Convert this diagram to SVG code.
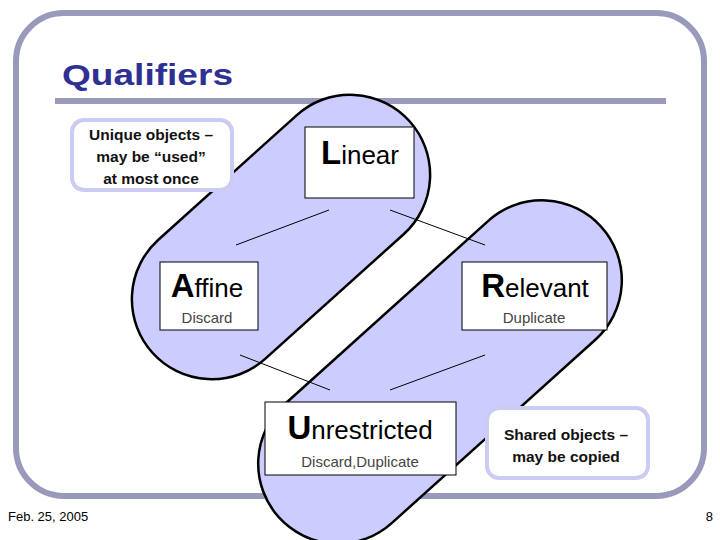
<svg xmlns="http://www.w3.org/2000/svg" width="720" height="540" viewBox="0 0 720 540">
<style>
.cap{fill:#ccccff;stroke:#000;stroke-width:2.5}
.box{fill:#fff;stroke:#000;stroke-width:1}
.call{fill:#fff;stroke:#ccccf2;stroke-width:4}
.t{font-family:"Liberation Sans",Arial,sans-serif}
.big{font-size:26px;text-anchor:middle}
.cap1{font-size:33px;font-weight:bold}
.sub{font-size:15px;fill:#444;text-anchor:middle}
.cl{font-size:15.5px;text-anchor:middle;font-weight:bold;fill:#111}
.con{stroke:#000;stroke-width:1}
</style>
<rect width="720" height="540" fill="#fff"/>
<rect x="16" y="13" width="688" height="483" rx="48" fill="none" stroke="#9999bb" stroke-width="6"/>
<line x1="55" y1="101" x2="666" y2="101" stroke="#9999bb" stroke-width="6"/>
<text class="t" x="62" y="85" font-size="30" font-weight="bold" fill="#2e3192" textLength="171" lengthAdjust="spacingAndGlyphs">Qualifiers</text>
<g id="capsules">
<rect class="cap" x="108" y="157" width="346" height="160" rx="80" transform="rotate(-42 281 237)"/>
<rect class="cap" x="223" y="292" width="434" height="160" rx="80" transform="rotate(-42 440 372)"/>
</g>
<g id="connectors">
<line class="con" x1="236" y1="245" x2="329" y2="210"/>
<line class="con" x1="390" y1="210" x2="485" y2="245"/>
<line class="con" x1="240" y1="355" x2="330" y2="390"/>
<line class="con" x1="390" y1="390" x2="485" y2="355"/>
</g>
<g id="linear"><rect class="box" x="305" y="127" width="109" height="71"/>
<text class="t big" x="360" y="164"><tspan class="cap1">L</tspan>inear</text></g>
<g id="affine"><rect class="box" x="160" y="262" width="98" height="68"/>
<text class="t big" x="207" y="297"><tspan class="cap1">A</tspan>ffine</text>
<text class="t sub" x="207" y="323">Discard</text></g>
<g id="relevant"><rect class="box" x="462" y="262" width="145" height="68"/>
<text class="t big" x="535" y="297"><tspan class="cap1">R</tspan>elevant</text>
<text class="t sub" x="534" y="323">Duplicate</text></g>
<g id="unrestricted"><rect class="box" x="265" y="402" width="191" height="73"/>
<text class="t big" x="360" y="439"><tspan class="cap1">U</tspan>nrestricted</text>
<text class="t sub" x="360" y="467">Discard,Duplicate</text></g>
<g id="unique"><rect class="call" x="72" y="120" width="160" height="70" rx="12"/>
<text class="t cl" x="151" y="140">Unique objects –</text>
<text class="t cl" x="151" y="162">may be “used”</text>
<text class="t cl" x="151" y="184">at most once</text></g>
<g id="shared"><rect class="call" x="487" y="408" width="161" height="70" rx="12"/>
<text class="t cl" x="566" y="440">Shared objects –</text>
<text class="t cl" x="566" y="462">may be copied</text></g>
<text class="t" x="8" y="521" font-size="13">Feb. 25, 2005</text>
<text class="t" x="713" y="521" font-size="13" text-anchor="end">8</text>
</svg>
